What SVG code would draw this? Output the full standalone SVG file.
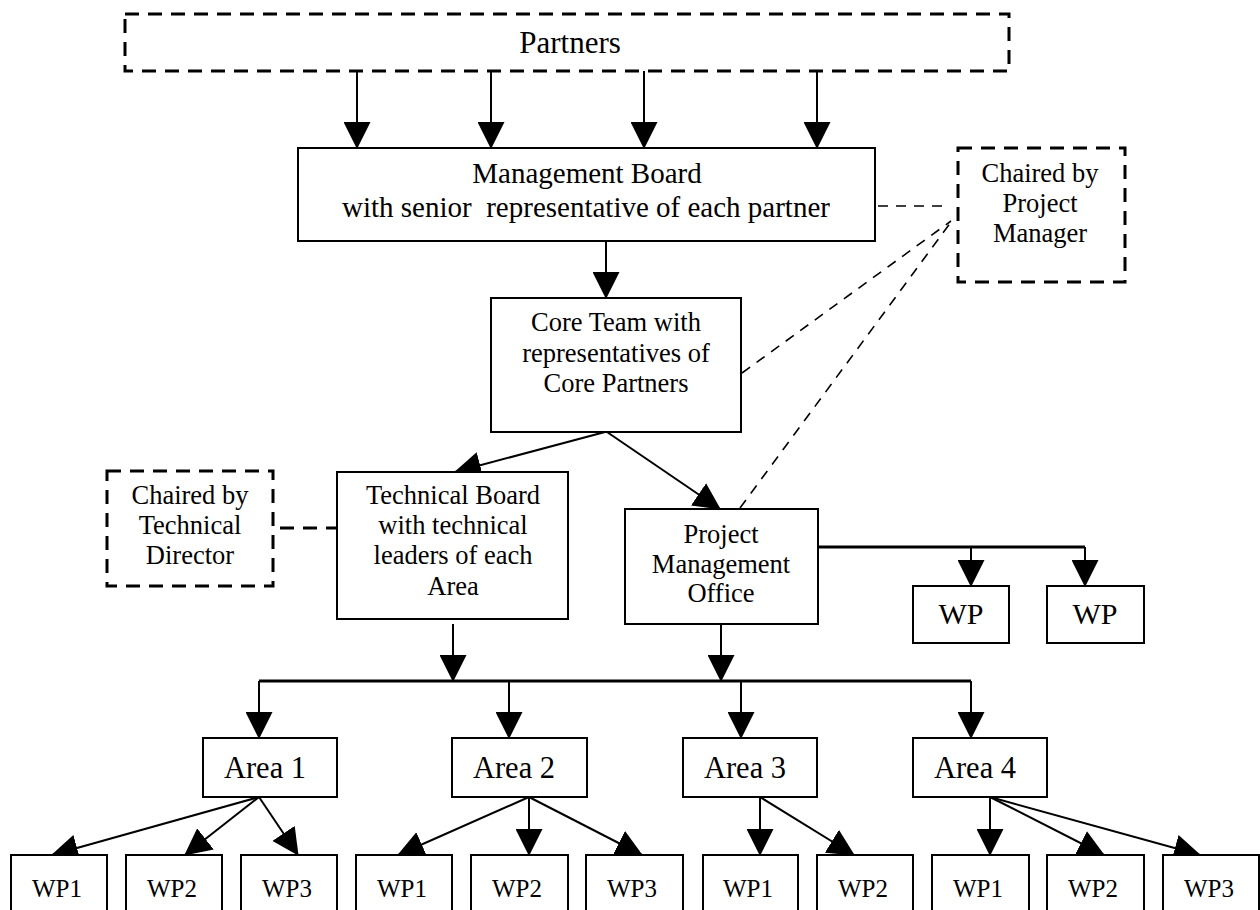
<svg xmlns="http://www.w3.org/2000/svg" width="1260" height="910" viewBox="0 0 1260 910">
  <style>
    .box { fill: #fff; stroke: #000; stroke-width: 2; }
    .dbox { fill: #fff; stroke: #000; stroke-width: 3; stroke-dasharray: 14 9; }
    .t { font-family: "Liberation Serif", "Times New Roman", serif; fill: #000; text-anchor: middle; white-space: pre; }
    .l { fill: none; stroke: #000; stroke-width: 2; }
    .bus { fill: none; stroke: #000; stroke-width: 3; }
    .dl { fill: none; stroke: #000; stroke-width: 1.6; stroke-dasharray: 10 8; }
    .dl2 { fill: none; stroke: #000; stroke-width: 3; stroke-dasharray: 14 9; }
  </style>
  <defs>
    <marker id="arrow" viewBox="0 0 27 27" refX="26" refY="13.5" markerWidth="27" markerHeight="27" markerUnits="userSpaceOnUse" orient="auto">
      <path d="M0,0 L27,13.5 L0,27 z" fill="#000"/>
    </marker>
  </defs>

  <rect width="1260" height="910" fill="#fff"/>

  <!-- connectors -->
  <g id="connectors">
    <!-- partners to management board -->
    <line class="l" x1="357" y1="71" x2="357" y2="148" marker-end="url(#arrow)"/>
    <line class="l" x1="491" y1="71" x2="491" y2="148" marker-end="url(#arrow)"/>
    <line class="l" x1="644" y1="71" x2="644" y2="148" marker-end="url(#arrow)"/>
    <line class="l" x1="817" y1="71" x2="817" y2="148" marker-end="url(#arrow)"/>
    <!-- management board to core team -->
    <line class="l" x1="606" y1="241" x2="606" y2="298" marker-end="url(#arrow)"/>
    <!-- core team to boards -->
    <line class="l" x1="605" y1="432" x2="455" y2="472" marker-end="url(#arrow)"/>
    <line class="l" x1="607" y1="432" x2="720" y2="509" marker-end="url(#arrow)"/>
    <!-- project office to its work packages -->
    <polyline class="bus" points="818,547 1085,547"/>
    <line class="l" x1="971" y1="547" x2="971" y2="586" marker-end="url(#arrow)"/>
    <line class="l" x1="1085" y1="547" x2="1085" y2="586" marker-end="url(#arrow)"/>
    <!-- boards to area bus -->
    <line class="l" x1="453" y1="624" x2="453" y2="681" marker-end="url(#arrow)"/>
    <line class="l" x1="721" y1="624" x2="721" y2="681" marker-end="url(#arrow)"/>
    <polyline class="bus" points="259,681 971,681"/>
    <line class="l" x1="259" y1="681" x2="259" y2="738" marker-end="url(#arrow)"/>
    <line class="l" x1="509" y1="681" x2="509" y2="738" marker-end="url(#arrow)"/>
    <line class="l" x1="741" y1="681" x2="741" y2="738" marker-end="url(#arrow)"/>
    <line class="l" x1="971" y1="681" x2="971" y2="738" marker-end="url(#arrow)"/>
    <!-- area 1 -->
    <line class="l" x1="259" y1="797" x2="52" y2="855" marker-end="url(#arrow)"/>
    <line class="l" x1="259" y1="797" x2="185" y2="855" marker-end="url(#arrow)"/>
    <line class="l" x1="259" y1="797" x2="298" y2="855" marker-end="url(#arrow)"/>
    <!-- area 2 -->
    <line class="l" x1="529" y1="797" x2="398" y2="855" marker-end="url(#arrow)"/>
    <line class="l" x1="529" y1="797" x2="529" y2="855" marker-end="url(#arrow)"/>
    <line class="l" x1="529" y1="797" x2="642" y2="855" marker-end="url(#arrow)"/>
    <!-- area 3 -->
    <line class="l" x1="760" y1="797" x2="760" y2="855" marker-end="url(#arrow)"/>
    <line class="l" x1="760" y1="797" x2="854" y2="855" marker-end="url(#arrow)"/>
    <!-- area 4 -->
    <line class="l" x1="990" y1="797" x2="990" y2="855" marker-end="url(#arrow)"/>
    <line class="l" x1="990" y1="797" x2="1104" y2="855" marker-end="url(#arrow)"/>
    <line class="l" x1="990" y1="797" x2="1200" y2="855" marker-end="url(#arrow)"/>
    <!-- chairing links -->
    <line class="dl" x1="878" y1="206" x2="942" y2="206"/>
    <line class="dl" x1="742" y1="373" x2="951" y2="221"/>
    <line class="dl" x1="740" y1="508" x2="951" y2="222"/>
    <line class="dl2" x1="280" y1="528" x2="337" y2="528"/>
  </g>

  <g id="partners">
    <rect class="dbox" x="125" y="14" width="884" height="57"/>
    <text class="t" x="570" y="53" font-size="31">Partners</text>
  </g>

  <g id="management-board">
    <rect class="box" x="298" y="148" width="577" height="93"/>
    <text class="t" x="587" y="183" font-size="29">Management Board</text>
    <text class="t" x="586" y="217" font-size="29">with senior  representative of each partner</text>
  </g>

  <g id="chair-project-manager">
    <rect class="dbox" x="958" y="148" width="167" height="134"/>
    <text class="t" x="1040" y="182" font-size="26.5">Chaired by</text>
    <text class="t" x="1040" y="212" font-size="26.5">Project</text>
    <text class="t" x="1040" y="242" font-size="26.5">Manager</text>
  </g>

  <g id="core-team">
    <rect class="box" x="491" y="298" width="250" height="134"/>
    <text class="t" x="616" y="331" font-size="26.5">Core Team with</text>
    <text class="t" x="616" y="362" font-size="26.5">representatives of</text>
    <text class="t" x="616" y="392" font-size="26.5">Core Partners</text>
  </g>

  <g id="chair-technical-director">
    <rect class="dbox" x="107" y="471" width="166" height="115"/>
    <text class="t" x="190" y="504" font-size="26.5">Chaired by</text>
    <text class="t" x="190" y="534" font-size="26.5">Technical</text>
    <text class="t" x="190" y="564" font-size="26.5">Director</text>
  </g>

  <g id="technical-board">
    <rect class="box" x="337" y="472" width="231" height="147"/>
    <text class="t" x="453" y="504" font-size="26.5">Technical Board</text>
    <text class="t" x="453" y="534" font-size="26.5">with technical</text>
    <text class="t" x="453" y="564" font-size="26.5">leaders of each</text>
    <text class="t" x="453" y="595" font-size="26.5">Area</text>
  </g>

  <g id="project-management-office">
    <rect class="box" x="625" y="509" width="193" height="115"/>
    <text class="t" x="721" y="543" font-size="26.5">Project</text>
    <text class="t" x="721" y="573" font-size="26.5">Management</text>
    <text class="t" x="721" y="602" font-size="26.5">Office</text>
  </g>

  <g id="office-wp-a">
    <rect class="box" x="913" y="586" width="96" height="57"/>
    <text class="t" x="961" y="624" font-size="30">WP</text>
  </g>
  <g id="office-wp-b">
    <rect class="box" x="1047" y="586" width="97" height="57"/>
    <text class="t" x="1095" y="624" font-size="30">WP</text>
  </g>

  <g id="area-1">
    <rect class="box" x="203" y="738" width="134" height="59"/>
    <text class="t" x="265" y="778" font-size="30.5">Area 1</text>
  </g>
  <g id="area-2">
    <rect class="box" x="452" y="738" width="135" height="59"/>
    <text class="t" x="514" y="778" font-size="30.5">Area 2</text>
  </g>
  <g id="area-3">
    <rect class="box" x="683" y="738" width="134" height="59"/>
    <text class="t" x="745" y="778" font-size="30.5">Area 3</text>
  </g>
  <g id="area-4">
    <rect class="box" x="913" y="738" width="134" height="59"/>
    <text class="t" x="975" y="778" font-size="30.5">Area 4</text>
  </g>

  <!-- work packages per area -->
  <g id="a1-wp1"><rect class="box" x="11" y="855" width="96" height="62"/><text class="t" x="57" y="897" font-size="25">WP1</text></g>
  <g id="a1-wp2"><rect class="box" x="126" y="855" width="96" height="62"/><text class="t" x="172" y="897" font-size="25">WP2</text></g>
  <g id="a1-wp3"><rect class="box" x="241" y="855" width="96" height="62"/><text class="t" x="287" y="897" font-size="25">WP3</text></g>
  <g id="a2-wp1"><rect class="box" x="356" y="855" width="96" height="62"/><text class="t" x="402" y="897" font-size="25">WP1</text></g>
  <g id="a2-wp2"><rect class="box" x="471" y="855" width="97" height="62"/><text class="t" x="517" y="897" font-size="25">WP2</text></g>
  <g id="a2-wp3"><rect class="box" x="586" y="855" width="97" height="62"/><text class="t" x="632" y="897" font-size="25">WP3</text></g>
  <g id="a3-wp1"><rect class="box" x="703" y="855" width="95" height="62"/><text class="t" x="748" y="897" font-size="25">WP1</text></g>
  <g id="a3-wp2"><rect class="box" x="817" y="855" width="96" height="62"/><text class="t" x="863" y="897" font-size="25">WP2</text></g>
  <g id="a4-wp1"><rect class="box" x="932" y="855" width="97" height="62"/><text class="t" x="978" y="897" font-size="25">WP1</text></g>
  <g id="a4-wp2"><rect class="box" x="1047" y="855" width="97" height="62"/><text class="t" x="1093" y="897" font-size="25">WP2</text></g>
  <g id="a4-wp3"><rect class="box" x="1163" y="855" width="96" height="62"/><text class="t" x="1209" y="897" font-size="25">WP3</text></g>
</svg>
